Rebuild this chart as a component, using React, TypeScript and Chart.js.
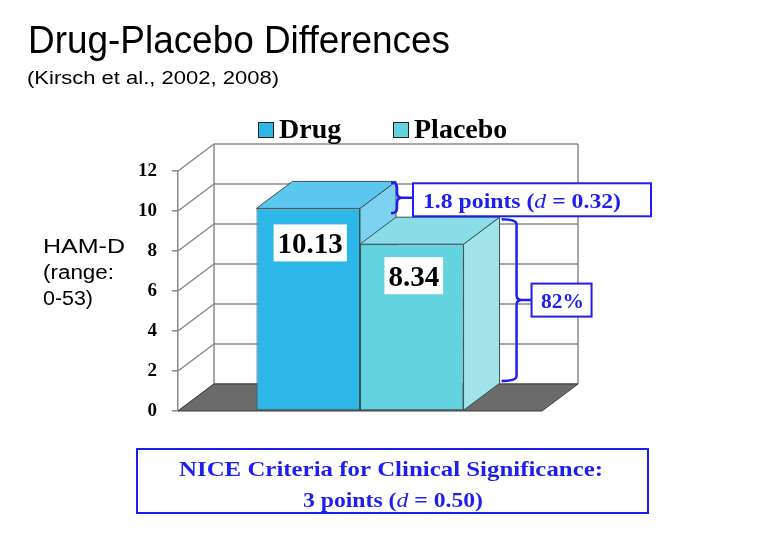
import React, { useEffect, useRef } from "react";
import { Chart, registerables } from "chart.js";

Chart.register(...registerables);

// ---------- data ----------
const categories = ["HAM-D"];
const seriesLabels = ["Drug", "Placebo"];
const drugValues = [10.13];
const placeboValues = [8.34];
const yTickValues = [0, 2, 4, 6, 8, 10, 12];
const valueLabels = ["10.13", "8.34"];
const titleText = "Drug-Placebo Differences";
const subtitleText = "(Kirsch et al., 2002, 2008)";
const axisTitleLines = ["HAM-D", "(range:", "0-53)"];
const diffPoints = "1.8 points";
const diffD = "0.32";
const ratioText = "82%";
const niceLine1 = "NICE Criteria for Clinical Significance:";
const nicePoints = "3 points";
const niceD = "0.50";

// ---------- style ----------
const FRONT = ["#2DB7E6", "#63D3E0"];
const TOP = ["#5CC7EE", "#8ADCE6"];
const SIDE = ["#7DD2F1", "#A0E4EA"];
const EDGE = "#38525c";
const GRID = "#8a8a8a";
const FLOOR = "#6b6b6b";
const BLUE = "#1e1ef0";
const DX = 36;
const DY = -27;
const SERIF = '"Liberation Serif", "Times New Roman", serif';
const SANS = '"Liberation Sans", Arial, sans-serif';

type Seg = { t: string; f: string };

function drawRich(
  ctx: CanvasRenderingContext2D,
  segs: Seg[],
  x: number,
  y: number,
  width: number | null,
  align: "left" | "center"
) {
  let total = 0;
  for (const s of segs) {
    ctx.font = s.f;
    total += ctx.measureText(s.t).width;
  }
  const sx = width ? width / total : 1;
  const start = align === "center" ? x - (total * sx) / 2 : x;
  ctx.save();
  ctx.textAlign = "left";
  ctx.textBaseline = "alphabetic";
  ctx.translate(start, y);
  ctx.scale(sx, 1);
  let cx = 0;
  for (const s of segs) {
    ctx.font = s.f;
    ctx.fillText(s.t, cx, 0);
    cx += ctx.measureText(s.t).width;
  }
  ctx.restore();
}

function brace(
  ctx: CanvasRenderingContext2D,
  x0: number,
  xv: number,
  yTop: number,
  yBot: number,
  xEnd: number
) {
  const ym = (yTop + yBot) / 2;
  const r = 5;
  ctx.beginPath();
  ctx.moveTo(x0, yTop);
  ctx.quadraticCurveTo(xv, yTop, xv, yTop + r);
  ctx.lineTo(xv, ym - r);
  ctx.quadraticCurveTo(xv, ym, xv + r, ym);
  ctx.lineTo(xEnd, ym);
  ctx.moveTo(xv + r, ym);
  ctx.quadraticCurveTo(xv, ym, xv, ym + r);
  ctx.lineTo(xv, yBot - r);
  ctx.quadraticCurveTo(xv, yBot, x0, yBot);
  ctx.stroke();
}

const poly = (ctx: CanvasRenderingContext2D, pts: number[][], fill: string, stroke: string, lw = 1) => {
  ctx.beginPath();
  ctx.moveTo(pts[0][0], pts[0][1]);
  for (let i = 1; i < pts.length; i++) ctx.lineTo(pts[i][0], pts[i][1]);
  ctx.closePath();
  ctx.fillStyle = fill;
  ctx.fill();
  ctx.strokeStyle = stroke;
  ctx.lineWidth = lw;
  ctx.stroke();
};

const threeD = {
  id: "threeD",
  beforeDatasetsDraw(chart: any) {
    const { ctx, chartArea: ca } = chart;
    const y = chart.scales.y;
    ctx.save();
    // back wall
    ctx.fillStyle = "#ffffff";
    ctx.fillRect(ca.left + DX, ca.top + DY, ca.right - ca.left, ca.bottom - ca.top);
    ctx.strokeStyle = GRID;
    ctx.lineWidth = 1.5;
    for (const v of yTickValues) {
      const py = y.getPixelForValue(v);
      ctx.beginPath();
      ctx.moveTo(ca.left + DX, py + DY);
      ctx.lineTo(ca.right + DX, py + DY);
      ctx.stroke();
      ctx.beginPath();
      ctx.moveTo(ca.left, py);
      ctx.lineTo(ca.left + DX, py + DY);
      ctx.stroke();
    }
    ctx.beginPath();
    ctx.moveTo(ca.left + DX, ca.top + DY);
    ctx.lineTo(ca.left + DX, ca.bottom + DY);
    ctx.moveTo(ca.right + DX, ca.top + DY);
    ctx.lineTo(ca.right + DX, ca.bottom + DY);
    ctx.stroke();
    // floor
    poly(
      ctx,
      [
        [ca.left, ca.bottom],
        [ca.right, ca.bottom],
        [ca.right + DX, ca.bottom + DY],
        [ca.left + DX, ca.bottom + DY],
      ],
      FLOOR,
      "#3c3c3c",
      1
    );
    // bar tops and sides
    chart.data.datasets.forEach((_: any, i: number) => {
      const meta = chart.getDatasetMeta(i);
      const bar = meta.data[0];
      if (!bar) return;
      const l = bar.x - bar.width / 2;
      const r = bar.x + bar.width / 2;
      const t = bar.y;
      const b = bar.base;
      poly(ctx, [[r, t], [r + DX, t + DY], [r + DX, b + DY], [r, b]], SIDE[i], EDGE, 1);
      poly(ctx, [[l, t], [r, t], [r + DX, t + DY], [l + DX, t + DY]], TOP[i], EDGE, 1);
    });
    ctx.restore();
  },
  afterDatasetsDraw(chart: any) {
    const { ctx } = chart;
    const y = chart.scales.y;
    ctx.save();
    const bars = chart.data.datasets.map((_: any, i: number) => chart.getDatasetMeta(i).data[0]);
    // value label boxes
    bars.forEach((bar: any, i: number) => {
      const f = `bold 29px ${SERIF}`;
      ctx.font = f;
      const w = ctx.measureText(valueLabels[i]).width + 8;
      const h = 37;
      const cx = bar.x + 2;
      const top = bar.y + (i === 0 ? 16 : 13);
      ctx.fillStyle = "#ffffff";
      ctx.fillRect(cx - w / 2, top, w, h);
      ctx.fillStyle = "#000000";
      drawRich(ctx, [{ t: valueLabels[i], f }], cx, top + 29, null, "center");
    });
    // brackets
    ctx.strokeStyle = BLUE;
    ctx.lineWidth = 2.5;
    const dR = bars[0].x + bars[0].width / 2 + DX;
    const pR = bars[1].x + bars[1].width / 2 + DX;
    const b1Top = y.getPixelForValue(drugValues[0]) + DY + 1;
    const b1Bot = y.getPixelForValue(placeboValues[0]) + DY - 4;
    const box1L = dR + 17;
    brace(ctx, dR - 5, dR + 1, b1Top, b1Bot, box1L);
    const b2Top = y.getPixelForValue(placeboValues[0]) + DY + 2;
    const b2Bot = y.getPixelForValue(0) + DY - 3;
    const box2L = pR + 32;
    brace(ctx, pR + 2, pR + 17, b2Top, b2Bot, box2L);
    // box 1
    const m1 = (b1Top + b1Bot) / 2 + 2;
    ctx.fillStyle = "#ffffff";
    ctx.fillRect(box1L, m1 - 16.5, 238, 33);
    ctx.lineWidth = 2;
    ctx.strokeRect(box1L, m1 - 16.5, 238, 33);
    ctx.fillStyle = BLUE;
    drawRich(
      ctx,
      [
        { t: diffPoints + " (", f: `bold 21px ${SERIF}` },
        { t: "d", f: `italic 21px ${SERIF}` },
        { t: " = " + diffD + ")", f: `bold 21px ${SERIF}` },
      ],
      box1L + 10,
      m1 + 8,
      198,
      "left"
    );
    // box 2
    const m2 = (b2Top + b2Bot) / 2;
    ctx.fillStyle = "#ffffff";
    ctx.fillRect(box2L, m2 - 16.5, 60, 33);
    ctx.strokeRect(box2L, m2 - 16.5, 60, 33);
    ctx.fillStyle = BLUE;
    drawRich(ctx, [{ t: ratioText, f: `bold 21px ${SERIF}` }], box2L + 31, m2 + 8, 43, "center");
    ctx.restore();
  },
  afterDraw(chart: any) {
    const { ctx } = chart;
    ctx.save();
    ctx.fillStyle = "#000000";
    drawRich(ctx, [{ t: titleText, f: `38px ${SANS}` }], 28, 53, 422, "left");
    drawRich(ctx, [{ t: subtitleText, f: `18px ${SANS}` }], 27, 84, 252, "left");
    const hw = [82, 71, 50];
    const hb = [253, 279, 305];
    axisTitleLines.forEach((s, i) => drawRich(ctx, [{ t: s, f: `20px ${SANS}` }], 43, hb[i], hw[i], "left"));
    // legend
    const lx = [258, 393];
    seriesLabels.forEach((s, i) => {
      ctx.fillStyle = FRONT[i];
      ctx.fillRect(lx[i], 122, 15, 15);
      ctx.strokeStyle = "#222";
      ctx.lineWidth = 1;
      ctx.strokeRect(lx[i] + 0.5, 122.5, 15, 15);
      ctx.fillStyle = "#000";
      drawRich(ctx, [{ t: s, f: `bold 28px ${SERIF}` }], lx[i] + 21, 138, null, "left");
    });
    // NICE box
    ctx.strokeStyle = BLUE;
    ctx.lineWidth = 2;
    ctx.strokeRect(137, 449, 511, 64);
    ctx.fillStyle = BLUE;
    drawRich(ctx, [{ t: niceLine1, f: `bold 22px ${SERIF}` }], 391, 476, 424, "center");
    drawRich(
      ctx,
      [
        { t: nicePoints + " (", f: `bold 22px ${SERIF}` },
        { t: "d", f: `italic 22px ${SERIF}` },
        { t: " = " + niceD + ")", f: `bold 22px ${SERIF}` },
      ],
      393,
      507,
      180,
      "center"
    );
    ctx.restore();
  },
};

export default function App() {
  const ref = useRef<HTMLCanvasElement | null>(null);
  useEffect(() => {
    if (!ref.current) return;
    const chart = new Chart(ref.current, {
      type: "bar",
      data: {
        labels: categories,
        datasets: [
          {
            label: seriesLabels[0],
            data: drugValues,
            backgroundColor: FRONT[0],
            borderColor: EDGE,
            borderWidth: 1,
            borderSkipped: false,
          },
          {
            label: seriesLabels[1],
            data: placeboValues,
            backgroundColor: FRONT[1],
            borderColor: EDGE,
            borderWidth: 1,
            borderSkipped: false,
          },
        ],
      },
      options: {
        animation: false,
        responsive: false,
        devicePixelRatio: 1,
        layout: { padding: { left: 138, right: 220, top: 171, bottom: 140 } },
        datasets: { bar: { barPercentage: 1, categoryPercentage: 0.569 } },
        plugins: { legend: { display: false }, title: { display: false }, tooltip: { enabled: false } },
        scales: {
          x: { display: false },
          y: {
            min: 0,
            max: 12,
            afterFit: (s: any) => {
              s.width = 40;
            },
            afterBuildTicks: (s: any) => {
              s.ticks = yTickValues.map((v) => ({ value: v }));
            },
            ticks: {
              color: "#000",
              padding: 15,
              font: { family: "Liberation Serif", weight: "bold", size: 19 },
            },
            grid: { drawOnChartArea: false, drawTicks: true, tickLength: 6, color: GRID, lineWidth: 1.5 },
            border: { display: true, color: GRID, width: 1.5 },
          },
        },
      },
      plugins: [threeD],
    } as any);
    return () => chart.destroy();
  }, []);
  return (
    <div style={{ position: "absolute", left: 0, top: 0, width: 762, height: 551, background: "#fff" }}>
      <canvas ref={ref} width={762} height={551} style={{ display: "block" }} />
    </div>
  );
}
